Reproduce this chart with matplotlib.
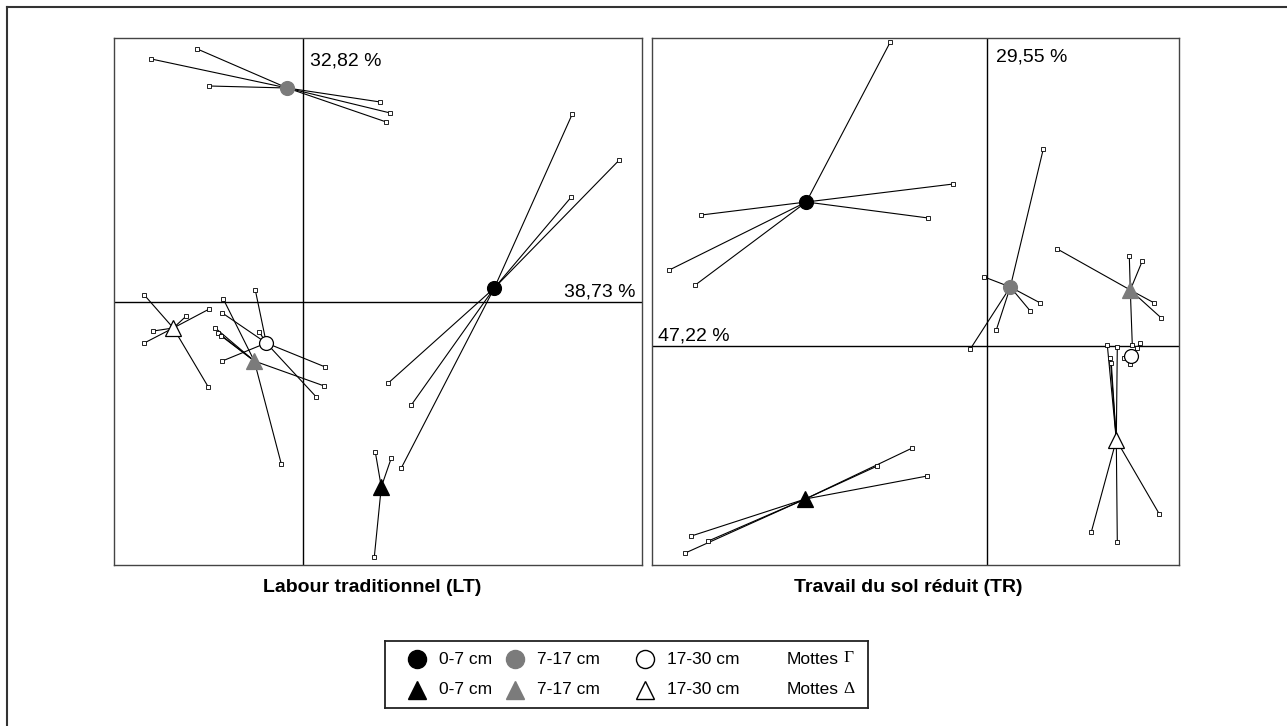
import matplotlib
matplotlib.use("Agg")
import matplotlib.pyplot as plt
from matplotlib.lines import Line2D

plt.rcParams["font.family"] = ["Liberation Sans", "DejaVu Sans"]

W, H = 1287, 726
GREY = "#7b7b7b"

# --- data: group centroid + individual points (units: axis-crossing origin) ---
# Labour traditionnel (LT)
lt_groups = ["Γ 0-7", "Γ 7-17", "Γ 17-30", "Δ 0-7", "Δ 7-17", "Δ 17-30"]
lt_centres = [(1.91, 0.14), (-0.16, 2.14), (-0.37, -0.41),
              (0.78, -1.85), (-0.49, -0.59), (-1.30, -0.26)]
lt_points = [
    [(2.69, 1.88), (3.16, 1.42), (2.68, 1.05), (0.85, -0.81), (1.08, -1.03), (0.98, -1.66)],
    [(-1.06, 2.53), (-1.52, 2.43), (-0.94, 2.16), (0.77, 2.00), (0.87, 1.89), (0.83, 1.80)],
    [(-0.48, 0.12), (-0.44, -0.30), (-0.81, -0.11), (-0.81, -0.59), (0.22, -0.65), (0.13, -0.95)],
    [(0.72, -1.50), (0.88, -1.56), (0.71, -2.55)],
    [(-0.80, 0.03), (-0.88, -0.26), (-0.85, -0.31), (-0.82, -0.34), (0.21, -0.84), (-0.22, -1.62)],
    [(-1.59, 0.07), (-0.94, -0.07), (-1.17, -0.14), (-1.50, -0.29), (-1.59, -0.41), (-0.95, -0.85)],
]
lt_axis_pct = ("38,73 %", "32,82 %")

# Travail du sol réduit (TR)
tr_groups = lt_groups
tr_centres = [(-1.81, 1.44), (0.23, 0.59), (1.44, -0.10),
              (-1.82, -1.53), (1.43, 0.56), (1.29, -0.94)]
tr_points = [
    [(-0.97, 3.04), (-0.34, 1.62), (-0.59, 1.28), (-2.86, 1.31), (-3.18, 0.76), (-2.92, 0.61)],
    [(0.56, 1.97), (-0.03, 0.69), (0.53, 0.43), (0.43, 0.35), (0.09, 0.16), (-0.17, -0.03)],
    [(1.53, 0.03), (1.37, -0.12), (1.43, -0.18), (1.50, -0.02)],
    [(-0.75, -1.02), (-1.10, -1.20), (-0.60, -1.30), (-2.96, -1.90), (-2.79, -1.95), (-3.02, -2.07)],
    [(0.70, 0.97), (1.42, 0.90), (1.55, 0.85), (1.67, 0.43), (1.74, 0.28), (1.45, 0.01)],
    [(1.20, 0.01), (1.23, -0.12), (1.24, -0.17), (1.30, -0.01), (1.04, -1.86), (1.72, -1.68), (1.30, -1.96)],
]
tr_axis_pct = ("47,22 %", "29,55 %")

# marker style per group: (marker, face colour)
styles = [("o", "black"), ("o", GREY), ("o", "white"),
          ("^", "black"), ("^", GREY), ("^", "white")]
legend_labels = ["0-7 cm", "7-17 cm", "17-30 cm"]
clod_types = ["Γ", "Δ"]


def px_axes(fig, x0, y0, x1, y1):
    return fig.add_axes([x0 / W, 1 - y1 / H, (x1 - x0) / W, (y1 - y0) / H])


def star_panel(ax, centres, points, xlim, ylim):
    ax.set_xlim(*xlim)
    ax.set_ylim(*ylim)
    ax.axhline(0, color="black", lw=1.0, zorder=1)
    ax.axvline(0, color="black", lw=1.0, zorder=1)
    for (cx, cy), pts, (mk, fc) in zip(centres, points, styles):
        for px, py in pts:
            ax.plot([cx, px], [cy, py], color="black", lw=0.8, zorder=2)
            ax.plot(px, py, "s", ms=2.6, mfc="white", mec="black", mew=0.6, zorder=3)
        ms = 10 if mk == "o" else 11
        ax.plot(cx, cy, mk, ms=ms, mfc=fc, mec="black" if fc != GREY else GREY,
                mew=0.9, zorder=4)
    ax.set_xticks([])
    ax.set_yticks([])
    for s in ax.spines.values():
        s.set_color("#444444")
        s.set_linewidth(1.0)


fig = plt.figure(figsize=(W / 100, H / 100), dpi=100)

# outer frame (only top and left visible)
fig.add_artist(Line2D([7 / W, 7 / W], [0, 1 - 7 / H], color="#333333", lw=1.5))
fig.add_artist(Line2D([7 / W, 1], [1 - 7 / H, 1 - 7 / H], color="#333333", lw=1.5))

ax1 = px_axes(fig, 114.5, 37.5, 641.5, 564.5)
star_panel(ax1, lt_centres, lt_points, (-1.888, 3.382), (-2.625, 2.645))
ax2 = px_axes(fig, 651.5, 37.5, 1178.5, 564.5)
star_panel(ax2, tr_centres, tr_points, (-3.358, 1.912), (-2.185, 3.085))


def ftext(x, y, s, **kw):
    fig.text(x / W, 1 - y / H, s, **kw)


ftext(310, 65, lt_axis_pct[1], fontsize=14, va="baseline")
ftext(636, 296.5, lt_axis_pct[0], fontsize=14, ha="right", va="baseline")
ftext(996, 62, tr_axis_pct[1], fontsize=14, va="baseline")
ftext(658, 340, tr_axis_pct[0], fontsize=14, va="baseline")

ftext(372, 588, "Labour traditionnel (LT)", fontsize=14, fontweight="bold",
      ha="center", va="center")
ftext(908, 588, "Travail du sol réduit (TR)", fontsize=14, fontweight="bold",
      ha="center", va="center")

# legend box drawn in pixel coordinates
lx0, ly0, lx1, ly1 = 385, 641, 868, 708
lax = px_axes(fig, lx0, ly0, lx1, ly1)
lax.set_xlim(lx0, lx1)
lax.set_ylim(ly1, ly0)
lax.set_xticks([])
lax.set_yticks([])
for s in lax.spines.values():
    s.set_linewidth(1.3)
    s.set_color("#222222")

col_x = [417, 515, 645]
row_y = [659, 690]
for r, (row, sym) in enumerate(zip([styles[:3], styles[3:]], clod_types)):
    for c, (mk, fc) in enumerate(row):
        lax.plot(col_x[c], row_y[r], mk, ms=13, mfc=fc,
                 mec="black" if fc != GREY else GREY, mew=1.0, clip_on=False)
        lax.text(col_x[c] + 22, row_y[r], legend_labels[c], fontsize=12.5, va="center")
    lax.text(787, row_y[r], "Mottes", fontsize=12.5, va="center")
    lax.text(843, row_y[r] - 1, sym, fontsize=12.5, va="center",
             family=["Liberation Serif", "DejaVu Serif"])

fig.savefig("out.png", dpi=100)
